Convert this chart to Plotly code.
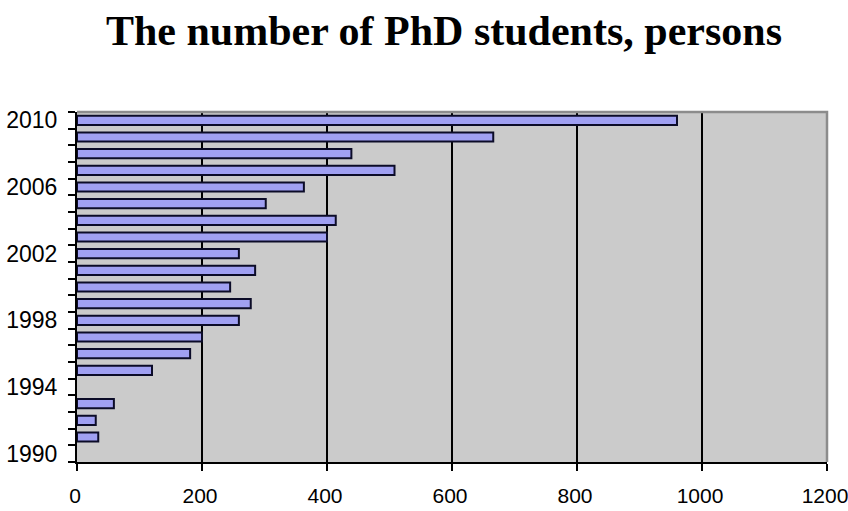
import plotly.graph_objects as go

# PhD students per year (None = no figure reported)
years = list(range(1990, 2011))
students = [None, 34, 30, 59, None, 120, 181, 200, 259, 278, 245,
            285, 259, 400, 414, 302, 363, 508, 439, 666, 960]
label_years = [1990, 1994, 1998, 2002, 2006, 2010]
x_ticks = [0, 200, 400, 600, 800, 1000, 1200]

font_family = "Liberation Sans Narrow, Arial Narrow, Liberation Sans, Arial, sans-serif"
y_tick_font = dict(family=font_family, size=23, color="black")
x_tick_font = dict(family=font_family, size=21, color="black")

fig = go.Figure(go.Bar(
    x=students,
    y=years,
    orientation="h",
    width=0.55,
    marker=dict(color="#A0A0F2", line=dict(color="#0C0C28", width=2)),
    hoverinfo="x+y",
))

fig.update_layout(
    width=848, height=511,
    margin=dict(l=77, r=21, t=112, b=49, autoexpand=False),
    paper_bgcolor="white",
    plot_bgcolor="#CBCBCB",
    showlegend=False,
    title=dict(
        text="The number of PhD students, persons",
        font=dict(family="Liberation Serif, Times New Roman, serif", size=42, color="black",
                  weight="bold"),
        x=444 / 848, xanchor="center",
        y=1 - 30 / 511, yanchor="middle", yref="container",
    ),
    xaxis=dict(
        range=[0, 1200],
        tickvals=x_ticks,
        ticktext=[str(v) for v in x_ticks],
        showgrid=True, gridcolor="black", gridwidth=1.6,
        showline=True, linecolor="black", linewidth=2,
        ticks="outside", ticklen=7, tickcolor="black", tickwidth=2,
        ticklabelstandoff=7,
        ticklabelshift=-2,
        ticklabeloverflow="allow",
        tickfont=x_tick_font,
        zeroline=False,
        automargin=False,
        fixedrange=True,
    ),
    yaxis=dict(
        range=[1989.5, 2010.5],
        tickvals=label_years,
        ticktext=[str(v) for v in label_years],
        showgrid=False,
        showline=True, linecolor="black", linewidth=2,
        ticks="",
        minor=dict(tick0=1989.5, dtick=1, ticks="outside", ticklen=7,
                   tickcolor="black", tickwidth=2, showgrid=False),
        ticklabelstandoff=13,
        tickfont=y_tick_font,
        zeroline=False,
        automargin=False,
        fixedrange=True,
    ),
    shapes=[dict(
        type="path", xref="paper", yref="paper",
        path="M 0,1 L 1,1 L 1,0",
        line=dict(color="#8C8C8C", width=2.5),
        layer="above",
    )],
)

fig.write_html("out.html")
